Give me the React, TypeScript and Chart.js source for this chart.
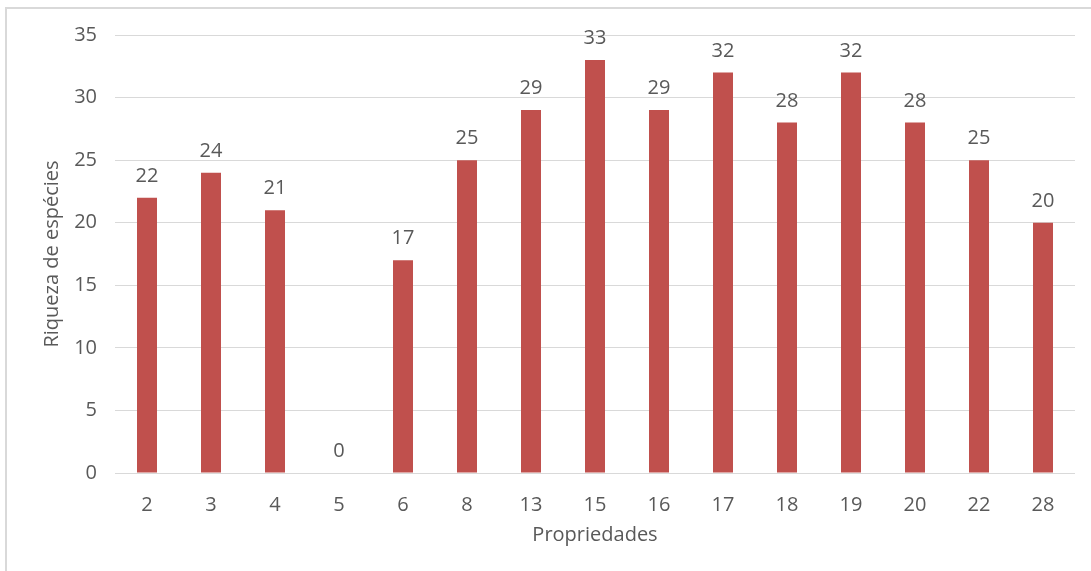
import React, { useEffect, useRef } from "react";
import { Chart, registerables } from "chart.js";

Chart.register(...registerables);

const categories = ["2", "3", "4", "5", "6", "8", "13", "15", "16", "17", "18", "19", "20", "22", "28"];
const richness = [22, 24, 21, 0, 17, 25, 29, 33, 29, 32, 28, 32, 28, 25, 20];
const yTicks = [0, 5, 10, 15, 20, 25, 30, 35];
const xTitle = "Propriedades";
const yTitle = "Riqueza de espécies";

const FONT = "'Open Sans', sans-serif";
const TEXT = "#595959";
const SIZE = 20;

const labelPlugin = {
  id: "valueLabels",
  afterDatasetsDraw(chart: any) {
    const ctx = chart.ctx;
    const meta = chart.getDatasetMeta(0);
    ctx.save();
    ctx.font = `${SIZE}px ${FONT}`;
    ctx.fillStyle = TEXT;
    ctx.textAlign = "center";
    ctx.textBaseline = "middle";
    meta.data.forEach((bar: any, i: number) => {
      ctx.fillText(String(richness[i]), bar.x, bar.y - 21.5);
    });
    ctx.restore();
  },
};

export default function App() {
  const ref = useRef<HTMLCanvasElement>(null);
  useEffect(() => {
    if (!ref.current) return;
    const chart = new Chart(ref.current, {
      type: "bar",
      data: {
        labels: categories,
        datasets: [
          {
            data: richness,
            backgroundColor: "#C0504D",
            barPercentage: 0.3125,
            categoryPercentage: 1,
          },
        ],
      },
      options: {
        responsive: false,
        animation: false,
        layout: { padding: { top: 35, right: 16, left: 0, bottom: 0 } },
        plugins: { legend: { display: false }, tooltip: { enabled: false } },
        scales: {
          x: {
            grid: { display: false },
            border: { display: false },
            ticks: { color: TEXT, font: { family: FONT, size: SIZE }, padding: 12, maxRotation: 0 },
            title: {
              display: true,
              text: xTitle,
              color: TEXT,
              font: { family: FONT, size: SIZE },
              padding: { top: 0, bottom: 24 },
            },
            afterFit: (s: any) => {
              s.height = 98;
            },
          },
          y: {
            min: 0,
            max: 35,
            afterBuildTicks: (s: any) => {
              s.ticks = yTicks.map((v) => ({ value: v }));
            },
            grid: { color: "#d9d9d9", drawTicks: false, lineWidth: 1 },
            border: { display: false },
            ticks: { color: TEXT, font: { family: FONT, size: SIZE }, padding: 18 },
            title: {
              display: true,
              text: yTitle,
              color: TEXT,
              font: { family: FONT, size: SIZE },
              padding: { top: 40, bottom: 0 },
            },
            afterFit: (s: any) => {
              s.width = 115;
            },
          },
        },
      },
      plugins: [labelPlugin],
    });
    return () => chart.destroy();
  }, []);
  return (
    <div style={{ position: "fixed", left: 0, top: 0, width: 1091, height: 571, overflow: "hidden", background: "#fff" }}>
      <div
        style={{
          position: "absolute",
          left: 5,
          top: 7,
          width: 1200,
          height: 700,
          border: "2px solid #d9d9d9",
        }}
      />
      <canvas ref={ref} width={1091} height={571} style={{ position: "absolute", left: 0, top: 0 }} />
    </div>
  );
}
